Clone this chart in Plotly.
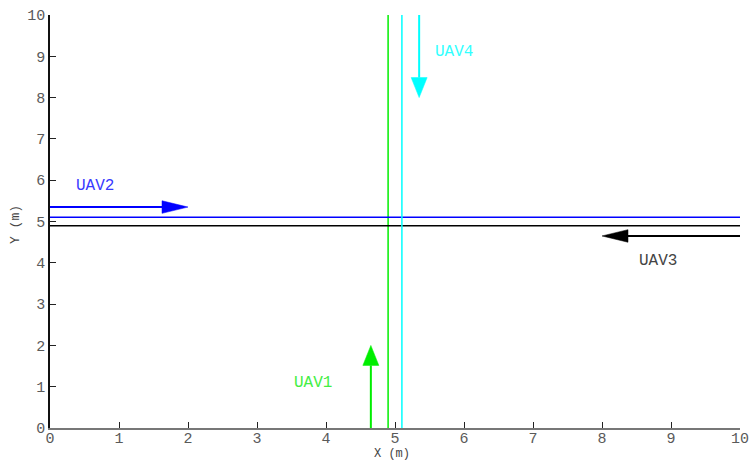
import plotly.graph_objects as go

# Flight corridors of the four UAVs (straight lines across the field)
uav_names = ["UAV1", "UAV2", "UAV3", "UAV4"]
uav_colors = ["#00ee00", "#0000ff", "#000000", "#00ffff"]
label_colors = ["#44ee44", "#3a3aff", "#444444", "#33ffff"]

# Corridor lines: (x0, y0, x1, y1)
path_x0 = [4.9, 0.0, 0.0, 5.1]
path_y0 = [0.0, 5.1, 4.9, 0.0]
path_x1 = [4.9, 10.0, 10.0, 5.1]
path_y1 = [10.0, 5.1, 4.9, 10.0]

# Heading arrows: start point -> tip
arrow_x0 = [4.65, 0.0, 10.0, 5.35]
arrow_y0 = [0.0, 5.35, 4.65, 10.0]
arrow_x1 = [4.65, 2.0, 8.0, 5.35]
arrow_y1 = [2.0, 5.35, 4.65, 8.0]

# Label anchor positions
label_x = [3.5, 0.35, 8.5, 5.55]
label_y = [1.1, 5.85, 4.05, 9.1]

x_ticks = list(range(0, 11))
y_ticks = list(range(0, 11))

W, H = 751, 461
ML, MR, MT, MB = 50, 11, 15, 33
XR = (0, 10)
YR = (0, 10)
PW, PH = W - ML - MR, H - MT - MB
px_x = PW / (XR[1] - XR[0])   # pixels per x unit
px_y = PH / (YR[1] - YR[0])   # pixels per y unit

MONO = "Courier New, FreeMono, Nimbus Mono PS, Liberation Mono, monospace"

fig = go.Figure()

for i in range(4):
    fig.add_trace(go.Scatter(
        x=[path_x0[i], path_x1[i]], y=[path_y0[i], path_y1[i]],
        mode="lines", line=dict(color=uav_colors[i], width=1.5),
        hoverinfo="skip", showlegend=False))

for i in range(4):
    x0, y0, x1, y1 = arrow_x0[i], arrow_y0[i], arrow_x1[i], arrow_y1[i]
    vertical = (x0 == x1)
    if vertical:
        head_len = 20 / px_y
        half_w = 8 / px_x
        d = 1 if y1 > y0 else -1
        bx, by = x1, y1 - d * head_len
        hx = [x1, bx - half_w, bx + half_w, x1]
        hy = [y1, by, by, y1]
    else:
        head_len = 26 / px_x
        half_w = 6.3 / px_y
        d = 1 if x1 > x0 else -1
        bx, by = x1 - d * head_len, y1
        hx = [x1, bx, bx, x1]
        hy = [y1, by - half_w, by + half_w, y1]
    fig.add_trace(go.Scatter(
        x=[x0, bx], y=[y0, by], mode="lines",
        line=dict(color=uav_colors[i], width=2),
        hoverinfo="skip", showlegend=False))
    fig.add_trace(go.Scatter(
        x=hx, y=hy, mode="lines", fill="toself",
        fillcolor=uav_colors[i], line=dict(color=uav_colors[i], width=0.5),
        hoverinfo="skip", showlegend=False))

for i in range(4):
    fig.add_annotation(
        x=label_x[i], y=label_y[i], text=uav_names[i], showarrow=False,
        xanchor="left", yanchor="middle",
        font=dict(family=MONO, size=16, color=label_colors[i]))

# Axis titles placed just below / left of the tick labels
title_font = dict(family=MONO, size=12, color="#444444")
fig.add_annotation(
    xref="paper", yref="paper", x=(392 - ML) / PW, y=-(454 - (MT + PH)) / PH,
    text="X (m)", showarrow=False, xanchor="center", yanchor="middle",
    font=title_font)
fig.add_annotation(
    xref="paper", yref="paper", x=-(ML - 15) / PW, y=1 - (225 - MT) / PH,
    text="Y (m)", showarrow=False, xanchor="center", yanchor="middle",
    textangle=-90, font=dict(family=MONO, size=13, color="#444444"))

axis_font = dict(family=MONO, size=15, color="#5a5a5a")

fig.update_layout(
    width=W, height=H,
    margin=dict(l=ML, r=MR, t=MT, b=MB, pad=0),
    paper_bgcolor="white", plot_bgcolor="white",
    xaxis=dict(
        range=list(XR), tickvals=x_ticks, ticktext=[str(v) for v in x_ticks],
        showgrid=False, zeroline=False, showline=True, automargin=False,
        linecolor="#777777", linewidth=2,
        ticks="inside", ticklen=6, tickcolor="#222222", tickwidth=1,
        tickfont=axis_font, ticklabelstandoff=-5,
    ),
    yaxis=dict(
        range=list(YR), tickvals=y_ticks, ticktext=[str(v) for v in y_ticks],
        showgrid=False, zeroline=False, showline=True, automargin=False,
        linecolor="#111111", linewidth=1.5,
        ticks="inside", ticklen=6, tickcolor="#222222", tickwidth=1,
        tickfont=axis_font,
    ),
)

fig.write_html("out.html")
